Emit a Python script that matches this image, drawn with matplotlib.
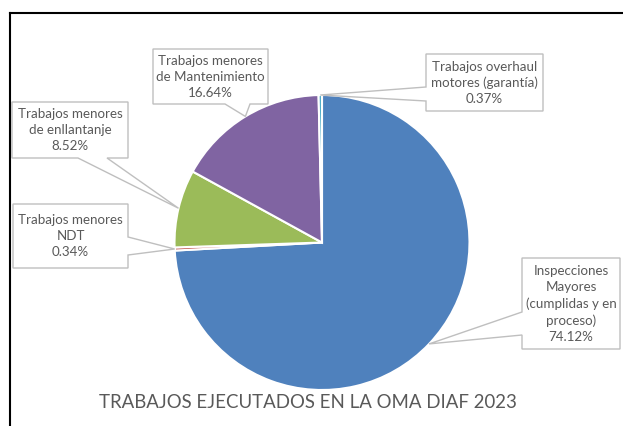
import matplotlib
matplotlib.use("Agg")
import matplotlib.pyplot as plt
from matplotlib.patches import Polygon
from matplotlib.lines import Line2D
import numpy as np

# ---- data ----
categories = [
    "Inspecciones\nMayores\n(cumplidas y en\nproceso)",
    "Trabajos menores\nNDT",
    "Trabajos menores\nde enllantanje",
    "Trabajos menores\nde Mantenimiento",
    "Trabajos overhaul\nmotores (garantía)",
]
values = [74.12, 0.34, 8.52, 16.64, 0.37]
colors = ["#4F81BD", "#C0504D", "#9BBB59", "#8064A2", "#4BACC6"]
title = "TRABAJOS EJECUTADOS EN LA OMA DIAF 2023"

W, H = 623, 426
fig = plt.figure(figsize=(W / 100, H / 100), dpi=100)
ax = fig.add_axes([0, 0, 1, 1])

cx, cy_px, R = 322, 242.5, 147.5
wedges, _ = ax.pie(values, colors=colors, startangle=90, counterclock=False,
                   center=(cx, H - cy_px), radius=R, frame=True,
                   wedgeprops=dict(edgecolor="white", linewidth=1.5))
ax.set_xlim(0, W)
ax.set_ylim(0, H)
ax.set_aspect("equal")
ax.axis("off")

# callout boxes (pixel coords, y down): box, side, base span
boxes = [
    ((522, 258, 620, 349), "left", (312, 335)),
    ((13, 204, 128, 268), "right", (237, 255)),
    ((12, 102, 128, 158), "bottom", (78, 107)),
    ((153, 49, 268, 104), "bottom", (225, 250)),
    ((426, 54, 543, 111), "left", (87, 101)),
]

edge_c = "#BFBFBF"
text_c = "#595959"
font = "Lato"

for w, cat, val, (box, side, (a, b)) in zip(wedges, categories, values, boxes):
    mid = np.deg2rad((w.theta1 + w.theta2) / 2)
    tx = cx + R * np.cos(mid)
    ty = (H - cy_px) + R * np.sin(mid)
    x0, y0, x1, y1 = box
    if side == "left":
        pts = [(x0, y0), (x1, y0), (x1, y1), (x0, y1), (x0, b), None, (x0, a)]
    elif side == "right":
        pts = [(x0, y0), (x1, y0), (x1, a), None, (x1, b), (x1, y1), (x0, y1)]
    else:
        pts = [(x0, y0), (x1, y0), (x1, y1), (b, y1), None, (a, y1), (x0, y1)]
    verts = []
    for p in pts:
        if p is None:
            verts.append((tx, ty))
        else:
            verts.append((p[0], H - p[1]))
    ax.add_patch(Polygon(verts, closed=True, facecolor="white",
                         edgecolor=edge_c, linewidth=1.0, zorder=5))
    ax.text((x0 + x1) / 2, H - (y0 + y1) / 2 - 0.5, f"{cat}\n{val:.2f}%",
            ha="center", va="center", multialignment="center",
            fontsize=9.6, color=text_c, family=font, linespacing=1.4,
            zorder=6)

ax.text(308, H - 402, title, ha="center", va="center", fontsize=13.4,
        color=text_c, family=font)

# chart border (partially cropped)
fig.add_artist(Line2D([10 / W, 1], [1 - 13 / H, 1 - 13 / H], color="black",
                      linewidth=1.5, transform=fig.transFigure))
fig.add_artist(Line2D([10 / W, 10 / W], [0, 1 - 13 / H], color="black",
                      linewidth=1.5, transform=fig.transFigure))

fig.savefig("out.png", dpi=100)
